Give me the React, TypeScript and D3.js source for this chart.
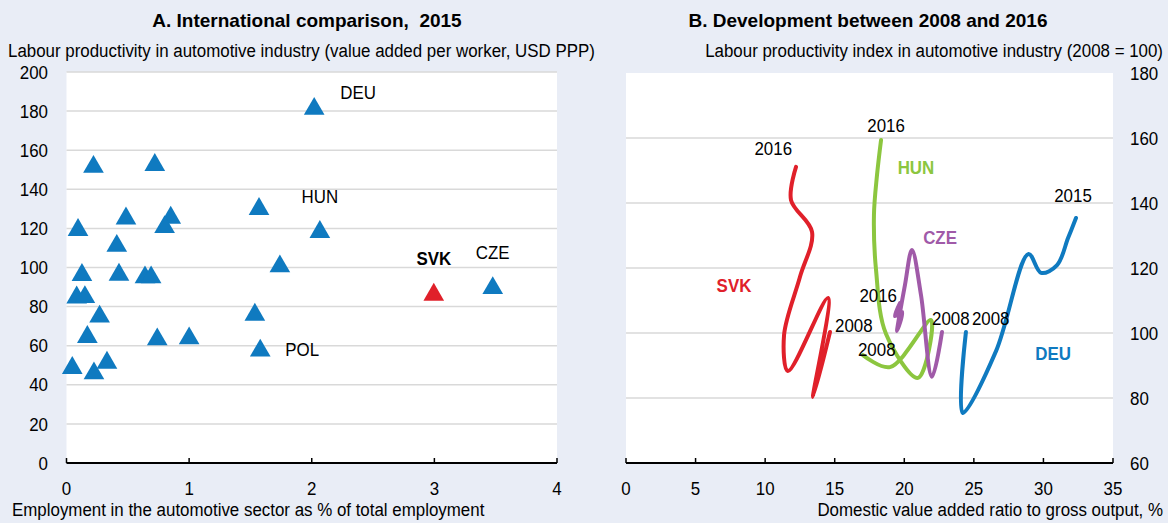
import React, { useEffect, useRef } from "react";
import * as d3 from "d3";

// Panel A: employment share (% of total) vs labour productivity, 2015
const empShare = [
  0.22, 0.72, 0.485, 0.85, 0.8, 0.094, 0.41, 0.126, 0.428, 0.64, 0.69, 0.083,
  0.15, 0.27, 0.17, 0.74, 1.0, 0.047, 0.224, 0.33, 2.02, 1.57, 2.066, 1.74,
  1.536, 1.58, 2.995, 3.476,
];
const productivity = [
  153, 154, 126.6, 127, 122.2, 120.7, 112.6, 97.7, 97.8, 96.5, 96.5, 86.2,
  86.4, 76.4, 66, 64.8, 65.3, 50.1, 47.4, 52.8, 182.7, 131.5, 119.7, 102.1,
  77.4, 59, 87.6, 91,
];
const codesA = [
  "", "", "", "", "", "", "", "", "", "", "", "", "", "", "", "", "", "", "",
  "", "DEU", "", "HUN", "", "", "POL", "SVK", "CZE",
];
const xTicksA = [0, 1, 2, 3, 4];
const yTicksA = [0, 20, 40, 60, 80, 100, 120, 140, 160, 180, 200];

// Panel B: domestic value added ratio (%) vs productivity index (2008 = 100)
const yearsB = [2008, 2009, 2010, 2011, 2012, 2013, 2014, 2015, 2016];
const svkVa = [14.66, 13.44, 14.52, 11.64, 11.36, 12.5, 13.37, 11.86, 12.22];
const svkIdx = [100.3, 80.3, 110.8, 88.3, 99.4, 117.2, 131.1, 140.9, 151.1];
const hunVa = [17.03, 18.97, 21.92, 20.99, 18.69, 17.97, 17.82, 18.04, 18.33];
const hunIdx = [93.2, 89.5, 104, 86.2, 99.7, 119.4, 136.3, 148.6, 159.4];
const czeVa = [22.71, 21.99, 21.2, 20.55, 20.05, 19.48, 19.84, 19.33, 19.69];
const czeIdx = [100.3, 86.5, 111.7, 125.5, 114.8, 100.6, 106.5, 105.2, 109.2];
const deuVa = [24.43, 24.2, 26.6, 28.93, 29.83, 30.98, 31.77, 32.34];
const deuIdx = [100.3, 75.4, 94.5, 124.3, 118.5, 120.9, 129.2, 135.4];
const xTicksB = [0, 5, 10, 15, 20, 25, 30, 35];
const yTicksB = [60, 80, 100, 120, 140, 160, 180];

const BG = "#E9EDF6";
const GRID = "#D9D9D9";
const FONT = "'Liberation Sans', Arial, sans-serif";
const SX = 0.89; // the chart's text is a slightly condensed Arial

// place text at (x, y) squeezed horizontally
const at = (x: number, y: number) => `translate(${x},${y}) scale(${SX},1)`;

export default function App() {
  const ref = useRef<SVGSVGElement>(null);

  useEffect(() => {
    const svg = d3.select(ref.current);
    svg.selectAll("*").remove();
    svg.style("font-family", FONT);

    svg.append("rect").attr("width", 1168).attr("height", 523).attr("fill", BG);

    // ---------- Panel A ----------
    const xA = d3.scaleLinear().domain([0, 4]).range([66.5, 557]);
    const yA = d3.scaleLinear().domain([0, 200]).range([463, 72]);

    const gA = svg.append("g");
    gA.append("rect")
      .attr("x", xA(0))
      .attr("y", yA(200))
      .attr("width", xA(4) - xA(0))
      .attr("height", yA(0) - yA(200))
      .attr("fill", "#fff");

    gA.append("g")
      .selectAll("line")
      .data(yTicksA.filter((d) => d > 0))
      .enter()
      .append("line")
      .attr("x1", xA(0))
      .attr("x2", xA(4))
      .attr("y1", (d) => yA(d))
      .attr("y2", (d) => yA(d))
      .attr("stroke", GRID)
      .attr("stroke-width", 1.5);

    gA.append("g")
      .selectAll("text")
      .data(yTicksA)
      .enter()
      .append("text")
      .attr("transform", (d) => at(48, yA(d)))
      .attr("dy", "0.35em")
      .attr("text-anchor", "end")
      .style("font-size", "19px")
      .text((d) => d);

    // x axis with inward ticks
    gA.append("line")
      .attr("x1", xA(0))
      .attr("x2", xA(4))
      .attr("y1", yA(0))
      .attr("y2", yA(0))
      .attr("stroke", "#000")
      .attr("stroke-width", 2);
    gA.append("g")
      .selectAll("line")
      .data(xTicksA)
      .enter()
      .append("line")
      .attr("x1", (d) => xA(d))
      .attr("x2", (d) => xA(d))
      .attr("y1", yA(0))
      .attr("y2", yA(0) - 5)
      .attr("stroke", "#000")
      .attr("stroke-width", 1.5);
    gA.append("g")
      .selectAll("text")
      .data(xTicksA)
      .enter()
      .append("text")
      .attr("transform", (d) => at(xA(d), 495))
      .attr("text-anchor", "middle")
      .style("font-size", "19px")
      .text((d) => d);

    const tri = d3.symbol().type(d3.symbolTriangle).size(185);
    const ptsA = empShare.map((v, i) => ({ x: v, y: productivity[i], code: codesA[i] }));
    gA.append("g")
      .selectAll("path")
      .data(ptsA)
      .enter()
      .append("path")
      .attr("d", tri)
      .attr("transform", (d) => `translate(${xA(d.x)},${yA(d.y) + 3})`)
      .attr("fill", (d) => (d.code === "SVK" ? "#E0202A" : "#0F7AC0"));

    const labelPosA: Record<string, [number, number, string]> = {
      DEU: [26, -13, "start"],
      HUN: [0, -33, "middle"],
      POL: [25, 2, "start"],
      SVK: [0, -33, "middle"],
      CZE: [0, -33, "middle"],
    };
    gA.append("g")
      .selectAll("text")
      .data(ptsA.filter((d) => d.code))
      .enter()
      .append("text")
      .attr("transform", (d) => at(xA(d.x) + labelPosA[d.code][0], yA(d.y) + labelPosA[d.code][1]))
      .attr("dy", "0.35em")
      .attr("text-anchor", (d) => labelPosA[d.code][2])
      .style("font-size", "19px")
      .style("font-weight", (d) => (d.code === "SVK" ? "bold" : "normal"))
      .text((d) => d.code);

    svg.append("text")
      .attr("x", 307)
      .attr("y", 27)
      .attr("text-anchor", "middle")
      .style("font-size", "19px")
      .style("font-weight", "bold")
      .style("white-space", "pre")
      .text("A. International comparison,  2015");
    svg.append("text")
      .attr("transform", at(8, 57))
      .style("font-size", "19px")
      .text("Labour productivity in automotive industry (value added per worker, USD PPP)");
    svg.append("text")
      .attr("transform", at(12, 516))
      .style("font-size", "19px")
      .text("Employment in the automotive sector as % of total employment");

    // ---------- Panel B ----------
    const xB = d3.scaleLinear().domain([0, 35]).range([626, 1113]);
    const yB = d3.scaleLinear().domain([60, 180]).range([463, 73]);

    const gB = svg.append("g");
    gB.append("rect")
      .attr("x", xB(0))
      .attr("y", yB(180))
      .attr("width", xB(35) - xB(0))
      .attr("height", yB(60) - yB(180))
      .attr("fill", "#fff");

    gB.append("g")
      .selectAll("line")
      .data(yTicksB.filter((d) => d > 60 && d < 180))
      .enter()
      .append("line")
      .attr("x1", xB(0))
      .attr("x2", xB(35))
      .attr("y1", (d) => yB(d))
      .attr("y2", (d) => yB(d))
      .attr("stroke", GRID)
      .attr("stroke-width", 1.5);

    gB.append("g")
      .selectAll("text")
      .data(yTicksB)
      .enter()
      .append("text")
      .attr("transform", (d) => at(1130, yB(d)))
      .attr("dy", "0.35em")
      .style("font-size", "19px")
      .text((d) => d);

    gB.append("line")
      .attr("x1", xB(0))
      .attr("x2", xB(35))
      .attr("y1", yB(60))
      .attr("y2", yB(60))
      .attr("stroke", "#000")
      .attr("stroke-width", 2);
    gB.append("g")
      .selectAll("line")
      .data(xTicksB)
      .enter()
      .append("line")
      .attr("x1", (d) => xB(d))
      .attr("x2", (d) => xB(d))
      .attr("y1", yB(60))
      .attr("y2", yB(60) - 5)
      .attr("stroke", "#000")
      .attr("stroke-width", 1.5);
    gB.append("g")
      .selectAll("text")
      .data(xTicksB)
      .enter()
      .append("text")
      .attr("transform", (d) => at(xB(d), 495))
      .attr("text-anchor", "middle")
      .style("font-size", "19px")
      .text((d) => d);

    const series = [
      { code: "SVK", color: "#E0202A", va: svkVa, idx: svkIdx, labelVa: 7.76, labelIdx: 114.8 },
      { code: "HUN", color: "#8CC63F", va: hunVa, idx: hunIdx, labelVa: 20.84, labelIdx: 151.1 },
      { code: "CZE", color: "#A05AA8", va: czeVa, idx: czeIdx, labelVa: 22.57, labelIdx: 129.5 },
      { code: "DEU", color: "#0F7AC0", va: deuVa, idx: deuIdx, labelVa: 30.69, labelIdx: 93.8 },
    ];

    const line = d3
      .line<[number, number]>()
      .x((d) => xB(d[0]))
      .y((d) => yB(d[1]))
      .curve(d3.curveCatmullRom.alpha(0.5));

    series.forEach((s) => {
      const pts = s.va.map((v, i) => [v, s.idx[i]] as [number, number]);
      gB.append("path")
        .attr("d", line(pts))
        .attr("fill", "none")
        .attr("stroke", s.color)
        .attr("stroke-width", 4)
        .attr("stroke-linecap", "round")
        .attr("stroke-linejoin", "round");
      gB.append("text")
        .attr("transform", at(xB(s.labelVa), yB(s.labelIdx)))
        .attr("dy", "0.35em")
        .attr("text-anchor", "middle")
        .attr("fill", s.color)
        .style("font-size", "19px")
        .style("font-weight", "bold")
        .text(s.code);
    });

    // year labels at first / last point: [code, which end, dx, dy, anchor]
    const yearLabels: [string, "first" | "last", number, number, string][] = [
      ["SVK", "last", -4, -19, "end"],
      ["HUN", "last", 5, -15, "middle"],
      ["CZE", "last", -3, -8, "end"],
      ["SVK", "first", 5, -7, "start"],
      ["HUN", "first", -5, -6, "start"],
      ["CZE", "first", -10, -14, "start"],
      ["DEU", "first", 6, -14, "start"],
      ["DEU", "last", -3, -23, "middle"],
    ];
    yearLabels.forEach(([code, end, dx, dy, anchor]) => {
      const s = series.find((t) => t.code === code)!;
      const i = end === "first" ? 0 : s.va.length - 1;
      gB.append("text")
        .attr("transform", at(xB(s.va[i]) + dx, yB(s.idx[i]) + dy))
        .attr("dy", "0.35em")
        .attr("text-anchor", anchor)
        .style("font-size", "19px")
        .text(yearsB[i]);
    });

    svg.append("text")
      .attr("x", 868)
      .attr("y", 27)
      .attr("text-anchor", "middle")
      .style("font-size", "19px")
      .style("font-weight", "bold")
      .text("B. Development between 2008 and 2016");
    svg.append("text")
      .attr("transform", at(1163, 57))
      .attr("text-anchor", "end")
      .style("font-size", "19px")
      .text("Labour productivity index in automotive industry (2008 = 100)");
    svg.append("text")
      .attr("transform", at(1163, 516))
      .attr("text-anchor", "end")
      .style("font-size", "19px")
      .text("Domestic value added ratio to gross output, %");
  }, []);

  return (
    <svg
      ref={ref}
      width={1168}
      height={523}
      style={{ position: "absolute", left: 0, top: 0 }}
    />
  );
}
